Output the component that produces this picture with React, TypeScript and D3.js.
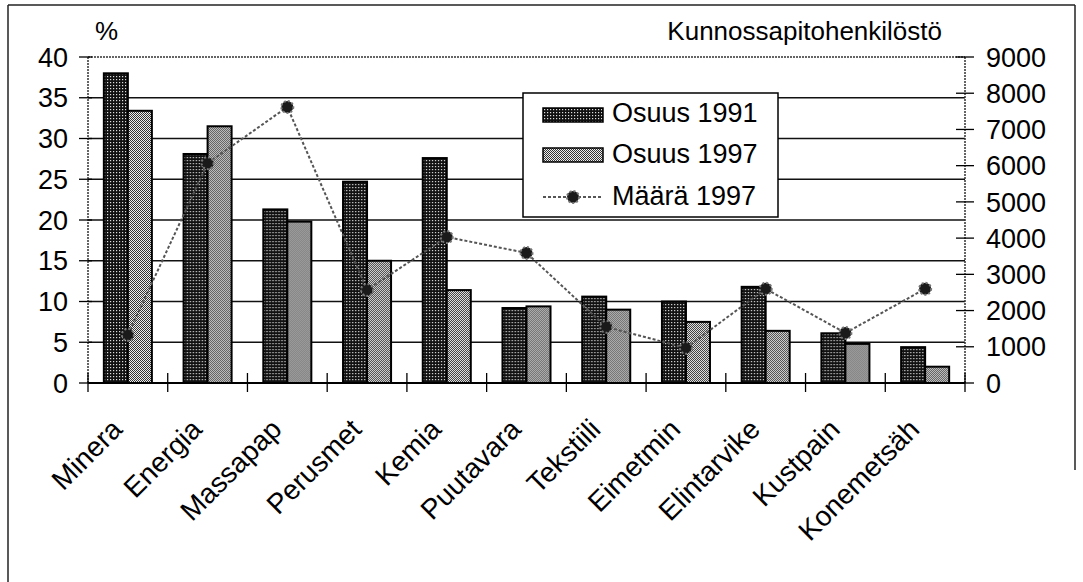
import React from 'react';
import * as d3 from 'd3';

const width = 1083;
const height = 582;
const left = 88;
const right = 965;
const top = 57;
const bottom = 383;
const font = 'Liberation Sans, Arial, Helvetica, sans-serif';

const categories = ['Minera', 'Energia', 'Massapap', 'Perusmet', 'Kemia', 'Puutavara', 'Tekstiili', 'Eimetmin', 'Elintarvike', 'Kustpain', 'Konemetsäh'];
const osuus1991 = [38.0, 28.1, 21.3, 24.7, 27.6, 9.2, 10.6, 10.0, 11.8, 6.1, 4.4];
const osuus1997 = [33.4, 31.5, 19.8, 15.0, 11.4, 9.4, 9.0, 7.5, 6.4, 4.8, 2.0];
const maara1997 = [1330, 6070, 7620, 2570, 4030, 3590, 1550, 970, 2600, 1380, 2600];
const leftTicks = [0, 5, 10, 15, 20, 25, 30, 35, 40];
const rightTicks = [0, 1000, 2000, 3000, 4000, 5000, 6000, 7000, 8000, 9000];

const x = d3.scaleBand().domain(categories).range([left, right]);
const sub = d3.scaleBand().domain(['1991', '1997']).range([0, x.bandwidth()]).paddingOuter(0.66);
const yL = d3.scaleLinear().domain([0, 40]).range([bottom, top]);
const yR = d3.scaleLinear().domain([0, 9000]).range([bottom, top]);

const line = d3.line<number>()
  .x((d, i) => x(categories[i])! + x.bandwidth() / 2)
  .y(d => yR(d));

const App = () => (
  <svg width={width} height={height} style={{ position: 'absolute', left: 0, top: 0, background: 'white' }}
    fontFamily={font}>
    <defs>
      <pattern id="p91" width="3" height="3" patternUnits="userSpaceOnUse">
        <rect width="3" height="3" fill="#111" />
        <rect x="1" y="1" width="1.2" height="1.2" fill="#ddd" />
      </pattern>
      <pattern id="p97" width="2" height="2" patternUnits="userSpaceOnUse">
        <rect width="2" height="2" fill="#eee" />
        <rect width="1" height="1" fill="#333" />
        <rect x="1" y="1" width="1" height="1" fill="#333" />
      </pattern>
    </defs>
    <rect width={width} height={height} fill="white" />
    {/* frame */}
    <line x1={8} y1={5} x2={1075} y2={5} stroke="#222" strokeWidth={1.5} />
    <line x1={8} y1={5} x2={8} y2={582} stroke="#222" strokeWidth={1.5} />
    <line x1={1075} y1={5} x2={1075} y2={470} stroke="#222" strokeWidth={1.5} />

    {/* gridlines */}
    {leftTicks.slice(1, -1).map(t => (
      <line key={t} x1={left} x2={right} y1={yL(t)} y2={yL(t)} stroke="#111" strokeWidth={1.6} />
    ))}
    {/* plot border */}
    <line x1={left} x2={right} y1={top} y2={top} stroke="#333" strokeWidth={1.5} strokeDasharray="2 1" />
    <line x1={left} x2={left} y1={top} y2={bottom} stroke="#333" strokeWidth={1.5} strokeDasharray="2 1" />
    <line x1={right} x2={right} y1={top} y2={bottom} stroke="#333" strokeWidth={1.5} strokeDasharray="2 1" />

    {/* bars */}
    {categories.map((c, i) => (
      <g key={c} transform={`translate(${x(c)},0)`}>
        <rect x={sub('1991')} y={yL(osuus1991[i])} width={sub.bandwidth()} height={yL(0) - yL(osuus1991[i])}
          fill="url(#p91)" stroke="#000" strokeWidth={2} />
        <rect x={sub('1997')} y={yL(osuus1997[i])} width={sub.bandwidth()} height={yL(0) - yL(osuus1997[i])}
          fill="url(#p97)" stroke="#000" strokeWidth={2} />
      </g>
    ))}

    {/* x axis */}
    <line x1={left} x2={right} y1={bottom} y2={bottom} stroke="#000" strokeWidth={2} />
    {categories.concat(['']).map((c, i) => {
      const xx = left + i * x.step();
      return <line key={i} x1={xx} x2={xx} y1={bottom - 10} y2={bottom + 9} stroke="#000" strokeWidth={1.3} />;
    })}
    {categories.map(c => (
      <text key={c} transform={`translate(${x(c)! + x.bandwidth() / 2 - 4},431) rotate(-45)`}
        textAnchor="end" fontSize={28} fill="#000">{c}</text>
    ))}

    {/* left axis */}
    {leftTicks.map(t => (
      <g key={t}>
        <line x1={left - 9} x2={left + 4} y1={yL(t)} y2={yL(t)} stroke="#000" strokeWidth={1.3} />
        <text x={68} y={yL(t)} dy="0.36em" textAnchor="end" fontSize={27} fill="#000">{t}</text>
      </g>
    ))}
    <text x={95} y={40} fontSize={26} fill="#000">%</text>

    {/* right axis */}
    {rightTicks.map(t => (
      <g key={t}>
        <line x1={right - 9} x2={right + 9} y1={yR(t)} y2={yR(t)} stroke="#000" strokeWidth={1.3} />
        <text x={986} y={yR(t)} dy="0.36em" textAnchor="start" fontSize={27} fill="#000">{t}</text>
      </g>
    ))}
    <text x={942} y={40} textAnchor="end" fontSize={26} fill="#000">Kunnossapitohenkilöstö</text>

    {/* line series */}
    <path d={line(maara1997)!} fill="none" stroke="#555" strokeWidth={2} strokeDasharray="3 2" />
    {maara1997.map((v, i) => (
      <circle key={i} cx={x(categories[i])! + x.bandwidth() / 2} cy={yR(v)} r={6}
        fill="#1a1a1a" stroke="#777" strokeWidth={2} strokeDasharray="2 2" />
    ))}

    {/* legend */}
    <rect x={523} y={93} width={255} height={124} fill="white" stroke="#000" strokeWidth={1.5} />
    <rect x={543} y={108} width={60} height={14} fill="url(#p91)" stroke="#000" strokeWidth={1.5} />
    <text x={612} y={122} fontSize={27} fill="#000">Osuus 1991</text>
    <rect x={543} y={148} width={60} height={14} fill="url(#p97)" stroke="#000" strokeWidth={1.5} />
    <text x={612} y={163} fontSize={27} fill="#000">Osuus 1997</text>
    <line x1={543} x2={603} y1={197} y2={197} stroke="#555" strokeWidth={2} strokeDasharray="3 2" />
    <circle cx={573} cy={197} r={6} fill="#1a1a1a" stroke="#777" strokeWidth={2} strokeDasharray="2 2" />
    <text x={612} y={205} fontSize={27} fill="#000">Määrä 1997</text>
  </svg>
);

export default App;
